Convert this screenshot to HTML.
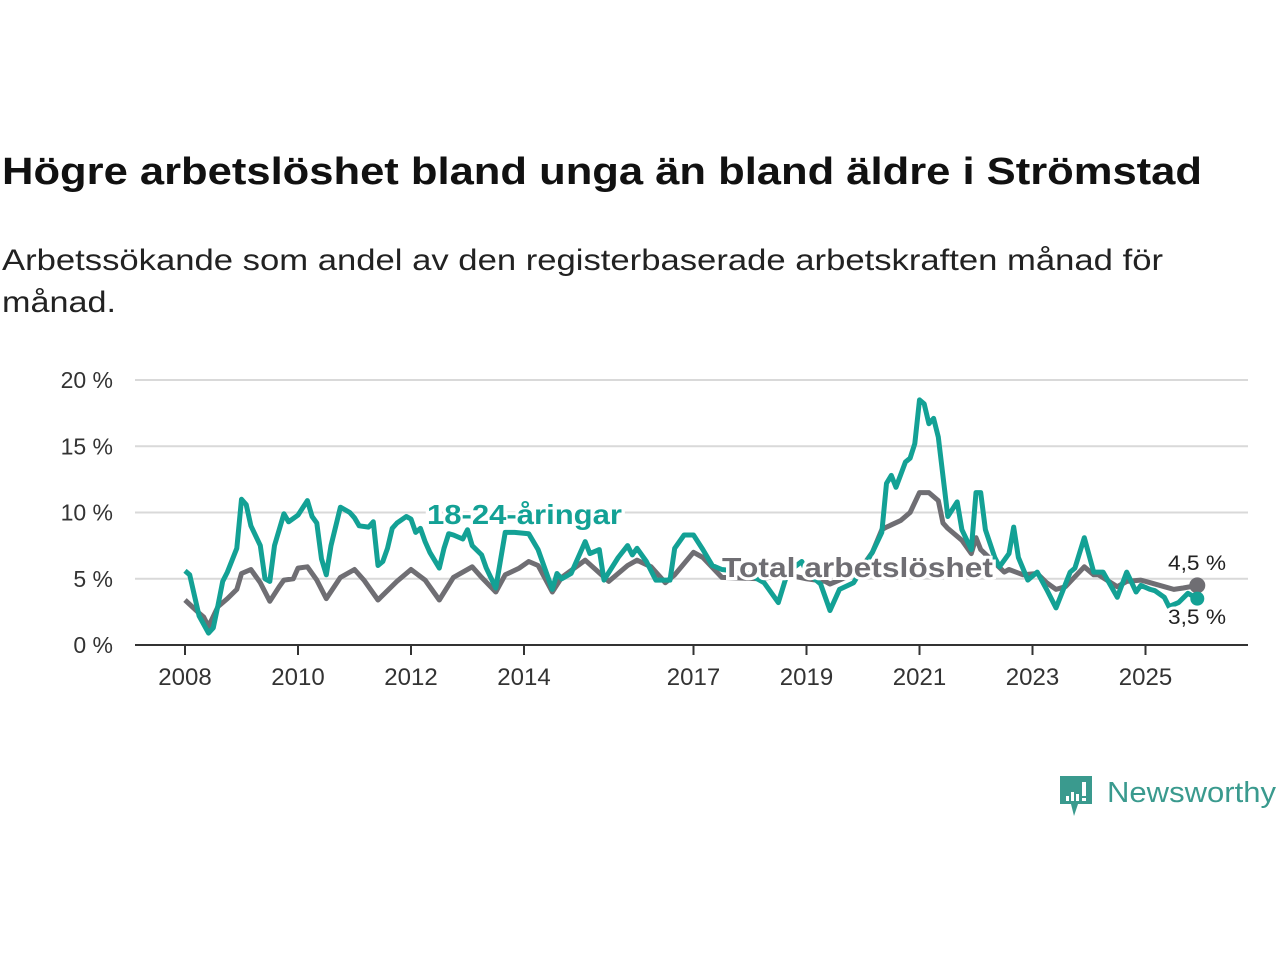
<!DOCTYPE html>
<html><head><meta charset="utf-8"><style>
body{margin:0;background:#fff;width:1280px;height:960px;overflow:hidden;font-family:"Liberation Sans","DejaVu Sans",sans-serif;}
</style></head><body>
<svg id="c" width="1280" height="960" xmlns="http://www.w3.org/2000/svg">
<text x="2" y="184" font-size="38" font-weight="bold" fill="#111" textLength="1200" lengthAdjust="spacingAndGlyphs">Högre arbetslöshet bland unga än bland äldre i Strömstad</text>
<text x="2" y="270" font-size="30" fill="#222" textLength="1161" lengthAdjust="spacingAndGlyphs">Arbetssökande som andel av den registerbaserade arbetskraften månad för</text>
<text x="2" y="312" font-size="30" fill="#222" textLength="114" lengthAdjust="spacingAndGlyphs">månad.</text>
<g id="grid"></g><g id="series"></g><g id="labels"></g>
<g>
<path d="M1060 776 h32 v28 h-14 l-4 12 l-3 -12 h-11 z" fill="#3a9a8e"/>
<rect x="1066" y="796" width="3" height="5" fill="#fff"/><rect x="1071" y="792" width="3" height="9" fill="#fff"/><rect x="1076" y="794" width="3" height="7" fill="#fff"/><rect x="1082" y="782" width="4" height="14" fill="#fff"/><rect x="1082" y="798" width="4" height="3" fill="#fff"/>
<text x="1107" y="802" font-size="29" fill="#3a9a8e" textLength="169" lengthAdjust="spacingAndGlyphs">Newsworthy</text>
</g>
</svg>
<script>
const yTicks=[0,5,10,15,20];
const yTickLabels=["0 %","5 %","10 %","15 %","20 %"];
const xTicks=[2008,2010,2012,2014,2017,2019,2021,2023,2025];
const youthMonths=[0,1,3,5,6,7,8,9,11,12,13,14,16,17,18,19,21,22,24,26,27,28,29,30,31,33,35,36,37,39,40,41,42,43,44,45,47,48,49,50,51,52,54,55,56,57,59,60,61,63,64,66,68,70,73,75,78,79,80,82,85,86,88,89,92,94,95,96,98,100,103,104,106,108,110,112,114,119,123,126,128,131,132,135,137,139,142,146,148,149,150,151,153,154,155,156,157,158,159,160,162,164,165,167,168,169,170,172,173,175,176,177,179,181,183,185,188,189,191,193,195,198,200,202,203,205,206,208,209,211,213,215];
const youthValues=[5.6,5.3,2.2,0.9,1.3,3,4.8,5.5,7.3,11,10.6,9,7.5,5,4.8,7.5,9.9,9.3,9.8,10.9,9.7,9.2,6.5,5.3,7.5,10.4,10,9.6,9,8.9,9.3,6,6.3,7.3,8.8,9.2,9.7,9.5,8.5,8.8,7.8,7,5.8,7.3,8.4,8.3,8,8.7,7.5,6.8,5.8,4.3,8.5,8.5,8.4,7.2,4.2,5.4,5,5.4,7.8,6.9,7.2,4.9,6.6,7.5,6.8,7.3,6.3,4.9,4.9,7.3,8.3,8.3,7.2,6,5.7,5.5,4.7,3.2,5.5,6.3,5.5,4.6,2.6,4.2,4.7,7,8.5,12.2,12.8,11.9,13.8,14.1,15.2,18.5,18.2,16.7,17.1,15.7,9.7,10.8,8.7,7.2,11.5,11.5,8.7,6.6,5.9,6.9,8.9,6.6,4.9,5.5,4.2,2.8,5.5,5.8,8.1,5.5,5.5,3.6,5.5,4.0,4.5,4.2,4.1,3.6,2.9,3.2,3.9,3.5];
const totalMonths=[0,3,4,5,7,9,11,12,14,16,18,20,21,23,24,26,28,30,33,36,38,41,45,48,51,54,57,61,63,66,68,71,73,75,78,80,85,90,94,96,99,102,104,108,110,114,122,128,132,136,137,139,143,146,148,149,152,154,156,158,160,161,162,165,167,168,169,174,175,178,181,183,185,187,191,193,194,198,200,203,205,208,210,212,215];
const totalValues=[3.4,2.4,2.1,1.4,2.9,3.5,4.2,5.4,5.7,4.7,3.3,4.4,4.9,5,5.8,5.9,4.9,3.5,5.1,5.7,4.9,3.4,4.8,5.7,4.9,3.4,5.1,5.9,5.1,4,5.3,5.8,6.3,6,4,5.1,6.4,4.8,6,6.4,5.9,4.7,5.3,7,6.6,5.1,5.0,5.3,5.0,4.8,4.6,4.9,5.5,7,8.7,8.9,9.4,10,11.5,11.5,10.9,9.2,8.8,7.9,6.9,8.1,7.2,5.5,5.7,5.3,5.4,4.7,4.2,4.4,5.9,5.3,5.3,4.4,4.8,4.9,4.7,4.4,4.2,4.3,4.5];
const NS="http://www.w3.org/2000/svg";
const X0=185,PXY=56.5,Y0=645,PYV=13.25;
const xYear=y=>X0+(y-2008)*PXY;
const xMonth=m=>xYear(2008+m/12);
const yVal=v=>Y0-v*PYV;
function mk(t,a,p){const e=document.createElementNS(NS,t);for(const k in a)e.setAttribute(k,a[k]);p.appendChild(e);return e;}
const grid=document.getElementById('grid');
yTicks.forEach((v,i)=>{
 if(v>0){const l=mk('line',{x1:135,x2:1248,y1:yVal(v),y2:yVal(v),stroke:'#d9d9d9','stroke-width':2},grid);
 
 }
 const t=mk('text',{x:113,y:yVal(v)+8,'text-anchor':'end','font-size':23,fill:'#333'},grid);
 t.textContent=yTickLabels[i];
 
 
});
const ax=mk('line',{x1:135,x2:1248,y1:Y0,y2:Y0,stroke:'#333','stroke-width':2},grid);


xTicks.forEach(y=>{
 const tk=mk('line',{x1:xYear(y),x2:xYear(y),y1:Y0,y2:Y0+10,stroke:'#333','stroke-width':2},grid);
 
 
 const t=mk('text',{x:xYear(y),y:Y0+40,'text-anchor':'middle','font-size':24,fill:'#333'},grid);
 t.textContent=y;
 
 
});
const S=document.getElementById('series');
function line(ms,vs,col,name){
 const d=ms.map((m,i)=>(i?'L':'M')+xMonth(m).toFixed(1)+' '+yVal(vs[i]).toFixed(1)).join(' ');
 const p=mk('path',{d:d,fill:'none',stroke:col,'stroke-width':5,'stroke-linejoin':'round'},S);
 
 
}
line(totalMonths,totalValues,'#6f6e73','total-line');
line(youthMonths,youthValues,'#13a195','youth-line');
const lm=totalMonths[totalMonths.length-1];
const d1=mk('circle',{cx:xMonth(lm),cy:yVal(totalValues[totalValues.length-1]),r:8,fill:'#6f6e73'},S);


const ym=youthMonths[youthMonths.length-1];
const d2=mk('circle',{cx:xMonth(ym),cy:yVal(youthValues[youthValues.length-1]),r:7,fill:'#13a195'},S);


const L=document.getElementById('labels');
function lab(x,y,txt,col,sz,w,name,anchor,len){
 const t=mk('text',{x:x,y:y,'font-size':sz,'font-weight':w,fill:col,stroke:'#fff','stroke-width':6,'paint-order':'stroke','text-anchor':anchor||'start'},L);
 if(len){t.setAttribute('textLength',len);t.setAttribute('lengthAdjust','spacingAndGlyphs');}
 t.textContent=txt;
 
 
}
lab(427,524,'18-24-åringar','#13a195',28,'bold','youth-series-label','start',195);
lab(722,577,'Total arbetslöshet','#6f6e73',28,'bold','total-series-label','start',271);
lab(1226,570,'4,5 %','#222',21,'normal','total-end-value','end',58);
lab(1226,624,'3,5 %','#222',21,'normal','youth-end-value','end',58);
</script>
</body></html>
